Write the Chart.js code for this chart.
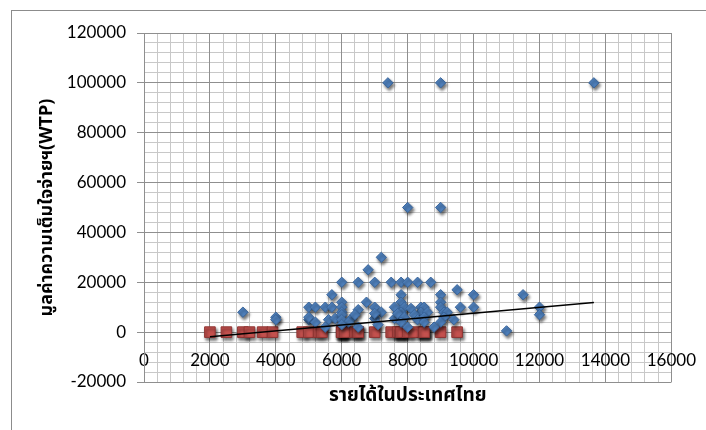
<!DOCTYPE html>
<html>
<head>
<meta charset="utf-8">
<script src="https://cdn.jsdelivr.net/npm/chart.js@4.4.1/dist/chart.umd.min.js"></script>
<style>
  html, body { margin: 0; padding: 0; background: #fff; overflow: hidden; }
  #wrap { position: relative; width: 706px; height: 430px; }
  #frame { position: absolute; left: 11px; top: 10px; width: 1000px; height: 1000px;
           border-left: 1px solid #8c8c8c; border-top: 1px solid #8c8c8c; }
  #chart { position: absolute; left: 0; top: 0; }
</style>
</head>
<body>
<div id="wrap">
  <div id="frame"></div>
  <canvas id="chart" width="706" height="430"></canvas>
</div>
<script>
// Income (x) vs willingness to pay (y)
const wtpX = [
  7400, 9000, 13650,
  8000, 9000,
  7200, 6800,
  6000, 6500, 7000, 7500, 7800, 8000, 8300, 8700,
  5700, 7800, 9000, 10000, 11500, 9500,
  6000, 6750, 7800, 9000,
  5000, 5200, 5500, 5700, 6000, 7000, 7600, 7900, 8400, 8500, 9000, 9600, 10000, 12000,
  3000, 6000, 6500, 7200, 7800, 8400, 8600, 9100, 9200,
  4000, 4000, 5000, 5000, 5600, 5800, 6000, 6300, 6400, 7000, 7000, 7600, 7700, 7900,
  8100, 8200, 8300, 8500, 9100, 9400, 12000,
  5200, 6000, 6200, 7800, 8500, 9000,
  6000, 7100, 5500, 6500, 8000, 8800, 11000
];
const wtpY = [
  100000, 100000, 100000,
  50000, 50000,
  30000, 25000,
  20000, 20000, 20000, 20000, 20000, 20000, 20000, 20000,
  15000, 15000, 15000, 15000, 15000, 17000,
  12000, 12000, 12000, 12000,
  10000, 10000, 10000, 10000, 10000, 10000, 10000, 10000, 10000, 10000, 10000, 10000, 10000, 10000,
  8000, 8000, 9000, 8000, 8000, 8000, 8000, 8000, 8000,
  6000, 5000, 5000, 6000, 5000, 5500, 7000, 5500, 7000, 5500, 7500, 5500, 7500, 6000,
  9500, 7000, 5000, 6000, 6000, 5000, 7000,
  4000, 5000, 4000, 4000, 4000, 4000,
  3000, 3000, 2000, 2000, 2000, 2000, 500
];
const zeroX = [
  2000, 2500, 3000, 3200, 3600, 3900, 4800, 5000, 5300, 5400,
  6000, 6000, 6000, 6000, 6100, 6400, 6500, 6500, 7000, 7500,
  7700, 7800, 7800, 7800, 8000, 8200, 8500, 8500, 8500, 9000, 9500
];
const zeroY = zeroX.map(() => 0);
const trendX = [2000, 13650];
const trendY = [-1800, 11900];

const xTickMin = 0, xTickMax = 16000, xTickStep = 2000;
const yTickMin = -20000, yTickMax = 120000, yTickStep = 20000;

const xTitle = 'รายได้ในประเทศไทย';
const yTitle = 'มูลค่าความเต็มใจจ่ายฯ(WTP)';

const MAJOR = '#8f8f8f';
const MINOR = '#c8c8c8';
const FONT = "Lato, 'Noto Sans Thai', 'Noto Sans', sans-serif";
const THAI = "'Noto Sans Thai', 'Noto Sans Thai Looped', Lato, 'Noto Sans', sans-serif";

const pts = (xs, ys) => xs.map((x, i) => ({ x: x, y: ys[i] }));

// marker shadows like the spreadsheet's
const shadowPlugin = {
  id: 'shadow',
  beforeDatasetDraw(chart, args) {
    const ctx = chart.ctx;
    ctx.save();
    if (args.index < 2) {
      ctx.shadowColor = 'rgba(0,0,0,0.55)';
      ctx.shadowBlur = 3;
      ctx.shadowOffsetX = 1.5;
      ctx.shadowOffsetY = 2.5;
    }
  },
  afterDatasetDraw(chart) {
    chart.ctx.restore();
  }
};

const plain = v => String(v);

new Chart(document.getElementById('chart'), {
  type: 'scatter',
  data: {
    datasets: [
      {
        label: 'WTP',
        data: pts(wtpX, wtpY),
        pointStyle: 'rectRot',
        pointRadius: 5.2,
        backgroundColor: '#4f81bd',
        borderColor: '#3a659a',
        borderWidth: 1,
        order: 2
      },
      {
        label: 'WTP = 0',
        data: pts(zeroX, zeroY),
        pointStyle: 'rect',
        pointRadius: 7.5,
        backgroundColor: '#c4514e',
        borderColor: '#8f3533',
        borderWidth: 1,
        order: 3
      },
      {
        label: 'Trend',
        type: 'line',
        data: pts(trendX, trendY),
        showLine: true,
        borderColor: '#000',
        borderWidth: 1.5,
        pointRadius: 0,
        fill: false,
        order: 1
      }
    ]
  },
  options: {
    responsive: false,
    animation: false,
    devicePixelRatio: 1,
    layout: { padding: { left: 10, top: 33, right: 34, bottom: 10 } },
    plugins: { legend: { display: false }, tooltip: { enabled: false } },
    scales: {
      x: {
        type: 'linear', position: 'bottom',
        min: xTickMin, max: xTickMax,
        ticks: { display: false, stepSize: xTickStep },
        grid: { color: MAJOR, drawTicks: false },
        border: { display: false },
        title: { display: true, text: xTitle, color: '#000',
                 font: { family: THAI, size: 19, weight: 'bold' },
                 padding: { top: 0, bottom: 11 } },
        afterFit: s => { s.height = 38; }
      },
      xLabels: {
        type: 'linear', position: { y: 0 },
        min: xTickMin, max: xTickMax,
        ticks: { stepSize: xTickStep, color: '#000', padding: 10,
                 font: { family: FONT, size: 17 }, callback: plain, maxRotation: 0 },
        grid: { display: false },
        border: { display: false }
      },
      xMinor: {
        type: 'linear', position: { y: 0 },
        min: xTickMin, max: xTickMax,
        ticks: { display: false, stepSize: 400, maxTicksLimit: 100 },
        grid: { color: MINOR, drawTicks: false, z: -2 },
        border: { display: false }
      },
      y: {
        type: 'linear', position: 'left',
        min: yTickMin, max: yTickMax,
        ticks: { stepSize: yTickStep, color: '#000', padding: 11,
                 font: { family: FONT, size: 17 }, callback: plain },
        grid: { color: MAJOR, tickLength: 7, tickColor: MAJOR },
        border: { color: MAJOR },
        title: { display: true, text: yTitle, color: '#000',
                 font: { family: THAI, size: 18, weight: 'bold' },
                 padding: { top: 28, bottom: 0 } },
        afterFit: s => { s.width = 134; }
      },
      yMinor: {
        type: 'linear', position: { x: 0 },
        min: yTickMin, max: yTickMax,
        ticks: { display: false, stepSize: 4000, maxTicksLimit: 100 },
        grid: { color: MINOR, drawTicks: false, z: -2 },
        border: { display: false }
      }
    }
  },
  plugins: [shadowPlugin]
});
</script>
</body>
</html>
